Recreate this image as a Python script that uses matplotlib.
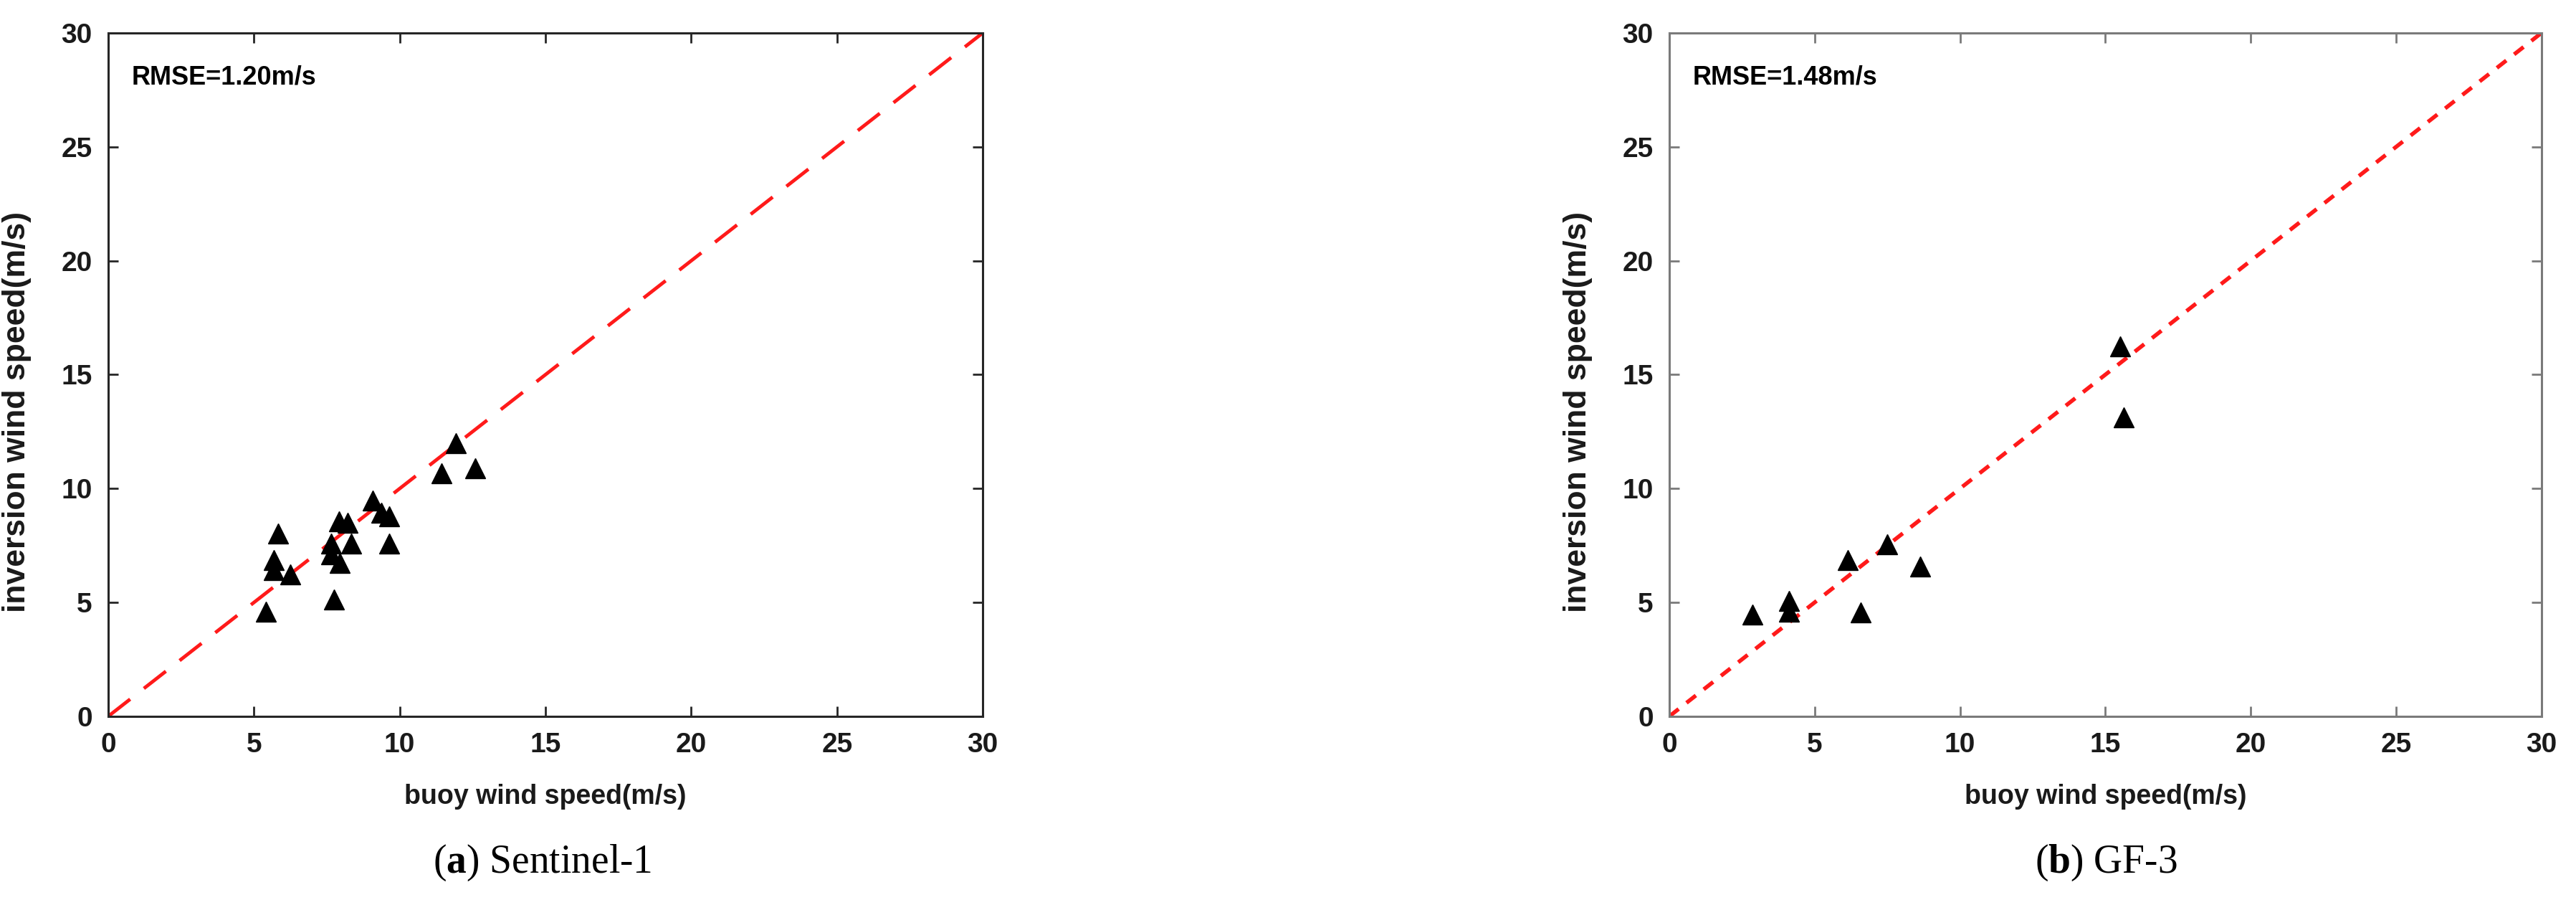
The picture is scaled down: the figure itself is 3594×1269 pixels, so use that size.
import matplotlib
matplotlib.use("Agg")
import matplotlib.pyplot as plt

plt.rcParams['font.family'] = ['Liberation Sans', 'DejaVu Sans']
plt.rcParams['mathtext.fontset'] = 'custom'
plt.rcParams['mathtext.rm'] = 'Liberation Serif'
plt.rcParams['mathtext.bf'] = 'Liberation Serif:bold'

# Sentinel-1: buoy vs. inversion wind speed (m/s)
s1_buoy = [11.92, 11.44, 12.58, 9.07, 9.38, 9.65, 9.65, 7.91, 8.22, 8.34,
           7.66, 7.66, 7.94, 7.75, 5.83, 5.69, 5.67, 6.25, 5.41]
s1_inv = [12.00, 10.68, 10.89, 9.47, 8.94, 8.78, 7.57, 8.57, 8.49, 7.57,
          7.59, 7.11, 6.74, 5.13, 8.04, 6.85, 6.42, 6.23, 4.60]

# GF-3
gf3_buoy = [2.85, 4.11, 4.11, 6.58, 6.15, 7.50, 8.63, 15.50, 15.62]
gf3_inv = [4.47, 5.07, 4.59, 4.56, 6.87, 7.55, 6.57, 16.23, 13.11]

ticks = [0, 5, 10, 15, 20, 25, 30]
panels = [
    ("RMSE=1.20m/s", r"($\mathbf{a}$) Sentinel-1"),
    ("RMSE=1.48m/s", r"($\mathbf{b}$) GF-3"),
]

fig = plt.figure(figsize=(35.94, 12.69), dpi=100)
ax1 = fig.add_axes([0.042, 0.2128, 0.3395, 0.751])
ax2 = fig.add_axes([0.648, 0.2128, 0.3386, 0.751])


def style_axes(ax, edge):
    ax.set_xlim(0, 30)
    ax.set_ylim(0, 30)
    ax.set_xticks(ticks)
    ax.set_yticks(ticks)
    for sp in ax.spines.values():
        sp.set_color(edge)
        sp.set_linewidth(2.2)
    ax.tick_params(direction='in', length=10, width=2, colors=edge,
                   top=True, right=True, labelsize=28, pad=16,
                   labelcolor='#1a1a1a')
    for lab in ax.get_xticklabels() + ax.get_yticklabels():
        lab.set_fontweight('bold')
    ax.set_xlabel('buoy wind speed(m/s)', fontsize=27, fontweight='bold',
                  color='#1a1a1a', labelpad=26)
    ax.set_ylabel('inversion wind speed(m/s)', fontsize=32, fontweight='bold',
                  color='#1a1a1a')
    ax.yaxis.set_label_coords(-0.088, 0.445)


# (a) Sentinel-1
ax1.plot([0, 30], [0, 30], color='#ff1a1a', linestyle=(0, (8, 5)), linewidth=3.5)
ax1.plot(s1_buoy, s1_inv, linestyle='none', marker='^', markersize=20,
         color='black')
style_axes(ax1, '#262626')
ax1.text(0.027, 0.935, panels[0][0], transform=ax1.transAxes, fontsize=26,
         fontweight='bold', va='center', ha='left')

# (b) GF-3
ax2.plot([0, 30], [0, 30], color='#ff1a1a', linestyle=(0, (3, 2.5)), linewidth=4)
ax2.plot(gf3_buoy, gf3_inv, linestyle='none', marker='^', markersize=20,
         color='black')
style_axes(ax2, '#7a7a7a')
ax2.text(0.027, 0.935, panels[1][0], transform=ax2.transAxes, fontsize=26,
         fontweight='bold', va='center', ha='left')

# captions below panels
fig.text(757 / 3594, 1 - 1203 / 1269, panels[0][1], fontsize=40,
         family='Liberation Serif', ha='center', va='center')
fig.text(2938 / 3594, 1 - 1203 / 1269, panels[1][1], fontsize=40,
         family='Liberation Serif', ha='center', va='center')

fig.savefig('out.png', dpi=100)
